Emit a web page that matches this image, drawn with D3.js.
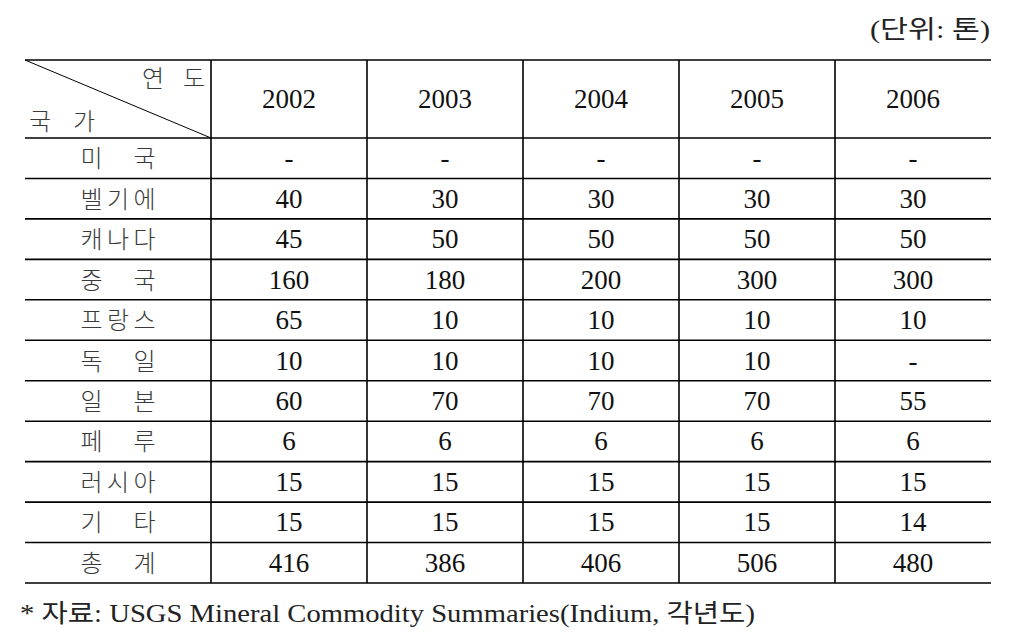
<!DOCTYPE html>
<html><head><meta charset="utf-8">
<script src="https://cdn.jsdelivr.net/npm/d3@7"></script>
<style>body{margin:0;background:#fff;} svg{display:block;}</style>
</head><body>
<script>
const years = ["2002","2003","2004","2005","2006"];
const countries = ["미국","벨기에","캐나다","중국","프랑스","독일","일본","페루","러시아","기타","총계"];
const v2002 = ["-","40","45","160","65","10","60","6","15","15","416"];
const v2003 = ["-","30","50","180","10","10","70","6","15","15","386"];
const v2004 = ["-","30","50","200","10","10","70","6","15","15","406"];
const v2005 = ["-","30","50","300","10","10","70","6","15","15","506"];
const v2006 = ["-","30","50","300","10","-","55","6","15","14","480"];
const unitLabel = "(단위: 톤)";
const headerYear = "연 도";
const headerCountry = "국 가";
const footnote = "* 자료: USGS Mineral Commodity Summaries(Indium, 각년도)";

const series = [v2002, v2003, v2004, v2005, v2006];
const W = 1017, H = 643;
const svg = d3.select("body").append("svg").attr("width", W).attr("height", H);

const tLeft = 25, labelRight = 211, tRight = 991;
const tTop = 60, headBottom = 138, tBottom = 583;
const serif = "'Liberation Serif','DejaVu Serif','Noto Sans CJK KR',serif";
const kr = "'Noto Sans CJK KR','Liberation Serif',sans-serif";
const krFill = "#3a3a3a";

const x = d3.scaleBand().domain(years).range([labelRight, tRight]);
const y = d3.scaleBand().domain(countries).range([headBottom, tBottom]);

const lines = svg.append("g").attr("stroke", "#000").attr("stroke-width", 1.6);
lines.append("line").attr("x1", tLeft).attr("x2", tRight).attr("y1", tTop).attr("y2", tTop);
countries.forEach(c => {
  lines.append("line").attr("x1", tLeft).attr("x2", tRight).attr("y1", y(c)).attr("y2", y(c));
});
lines.append("line").attr("x1", tLeft).attr("x2", tRight).attr("y1", tBottom).attr("y2", tBottom);
lines.append("line").attr("x1", labelRight).attr("x2", labelRight).attr("y1", tTop).attr("y2", tBottom);
years.slice(1).forEach(yr => {
  lines.append("line").attr("x1", x(yr)).attr("x2", x(yr)).attr("y1", tTop).attr("y2", tBottom);
});
svg.append("line").attr("x1", tLeft).attr("y1", tTop).attr("x2", labelRight).attr("y2", headBottom)
  .attr("stroke", "#000").attr("stroke-width", 1);

svg.append("text").attr("x", 142).attr("y", 87).attr("text-anchor", "start")
  .attr("font-family", kr).attr("font-weight", 300).attr("font-size", 24).attr("fill", krFill)
  .attr("textLength", 63).attr("lengthAdjust", "spacing").text(headerYear);
svg.append("text").attr("x", 29).attr("y", 130).attr("text-anchor", "start")
  .attr("font-family", kr).attr("font-weight", 300).attr("font-size", 24).attr("fill", krFill)
  .attr("textLength", 66).attr("lengthAdjust", "spacing").text(headerCountry);

years.forEach(yr => {
  svg.append("text").attr("x", x(yr) + x.bandwidth() / 2).attr("y", (tTop + headBottom) / 2 + 9)
    .attr("text-anchor", "middle").attr("font-family", serif).attr("font-size", 27)
    .attr("fill", "#111").text(yr);
});

countries.forEach(c => {
  svg.append("text").attr("x", (tLeft + labelRight) / 2).attr("y", y(c) + y.bandwidth() / 2 + 9)
    .attr("text-anchor", "middle").attr("font-family", kr).attr("font-weight", 300).attr("font-size", 24)
    .attr("fill", krFill).attr("textLength", 75).attr("lengthAdjust", "spacing").text(c);
});

years.forEach((yr, j) => {
  series[j].forEach((val, i) => {
    svg.append("text").attr("x", x(yr) + x.bandwidth() / 2).attr("y", y(countries[i]) + y.bandwidth() / 2 + 9)
      .attr("text-anchor", "middle").attr("font-family", serif).attr("font-size", 27)
      .attr("fill", "#111").text(val);
  });
});

svg.append("text").attr("x", 870).attr("y", 38).attr("text-anchor", "start")
  .attr("font-family", serif).attr("font-size", 25).attr("fill", "#222")
  .attr("textLength", 120).attr("lengthAdjust", "spacingAndGlyphs").text(unitLabel);
svg.append("text").attr("x", 20).attr("y", 622).attr("text-anchor", "start")
  .attr("font-family", serif).attr("font-size", 25).attr("fill", "#222")
  .attr("textLength", 735).attr("lengthAdjust", "spacingAndGlyphs").text(footnote);
</script>
</body></html>
